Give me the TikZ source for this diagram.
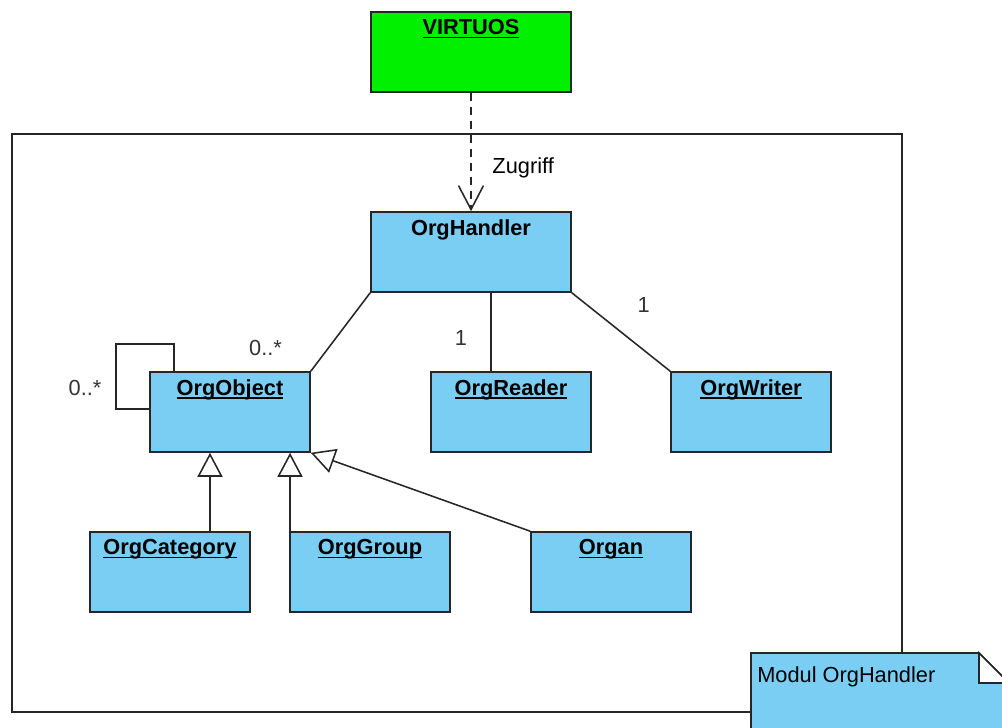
\documentclass[tikz,border=0pt]{standalone}
\usepackage{fontspec}
\setmainfont{Liberation Sans}
\usetikzlibrary{arrows.meta, positioning}
\definecolor{clsblue}{RGB}{122,206,244}
\definecolor{sysgreen}{RGB}{0,240,0}
\newcommand{\clsname}[1]{\setbox0\hbox{#1}\rlap{\rule[-0.16em]{\wd0}{0.07em}}\box0}

\begin{document}
\begin{tikzpicture}[
    x=0.025cm, y=-0.025cm,
    font=\fontsize{15.5}{18}\selectfont,
    cls/.style={draw=black!85, line width=1.1pt, fill=clsblue, minimum width=4cm, minimum height=2cm},
    sys/.style={cls, fill=sysgreen, minimum width=5cm},
    ttl/.style={anchor=north, inner sep=0.2cm, font=\fontsize{15.5}{18}\selectfont\bfseries},
    mult/.style={text=black!80},
    assoc/.style={draw=black!85, line width=1.1pt},
    inherit/.style={assoc, -{Triangle[open, length=0.6cm, width=0.625cm, fill=white]}},
    access/.style={assoc, dash pattern=on 0.2cm off 0.15cm, -{Straight Barb[length=0.6cm, width=0.625cm]}}
]
\useasboundingbox (0,0) rectangle (1002,728);

% module frame
\draw[assoc] (12,134) rectangle (902,712);

\node[sys, label={[ttl]north:\clsname{VIRTUOS}}] (virt) at (471,52) {};
\node[sys, fill=clsblue, label={[ttl]north:OrgHandler}] (hdl) at (471,252) {};
\node[cls, label={[ttl]north:\clsname{OrgObject}}] (obj) at (230,412) {};
\node[cls, label={[ttl]north:\clsname{OrgReader}}] (rdr) at (511,412) {};
\node[cls, label={[ttl]north:\clsname{OrgWriter}}] (wrt) at (751,412) {};
\node[cls, label={[ttl]north:\clsname{OrgCategory}}] (cat) at (170,572) {};
\node[cls, label={[ttl]north:\clsname{OrgGroup}}] (grp) at (370,572) {};
\node[cls, label={[ttl]north:\clsname{Organ}}] (org) at (611,572) {};

\draw[access] (virt) -- node[pos=0.633, anchor=west, xshift=0.4cm] (zug) {Zugriff} (hdl);

\draw[assoc] (hdl.south west) -- node[mult, pos=0.7, xshift=-1.575cm] (m1) {0..*} (obj.north east);
\draw[assoc] ([xshift=0.5cm]hdl.south) -- node[mult, pos=0.575, xshift=-0.75cm] (m2) {1} ([xshift=-0.5cm]rdr.north);
\draw[assoc] (hdl.south east) -- node[mult, pos=0.15, xshift=1.425cm] (m3) {1} (wrt.north west);

% self association
\draw[assoc] ([xshift=0.625cm]obj.north west) |- (116,344) |- ([yshift=0.075cm]obj.west);
\node[mult] (m4) at (85,388) {0..*};

\draw[inherit] ([xshift=1cm]cat.north) -- ([xshift=-0.5cm]obj.south);
\draw[inherit] ([xshift=1.5cm]obj.south |- grp.north) -- ([xshift=1.5cm]obj.south);
\draw[inherit] (org.north west) -- (obj.south east);

% note
\filldraw[fill=clsblue, draw=black!85, line width=1.1pt] (751,653) -- (979,653) -- (1009,683) -- (1009,760) -- (751,760) -- cycle;
\filldraw[fill=white, draw=black!85, line width=1.1pt] (979,653) -- (979,683) -- (1009,683) -- cycle;
\node[anchor=base west, inner sep=0] (note) at (757,682) {Modul OrgHandler};

\end{tikzpicture}
\end{document}
